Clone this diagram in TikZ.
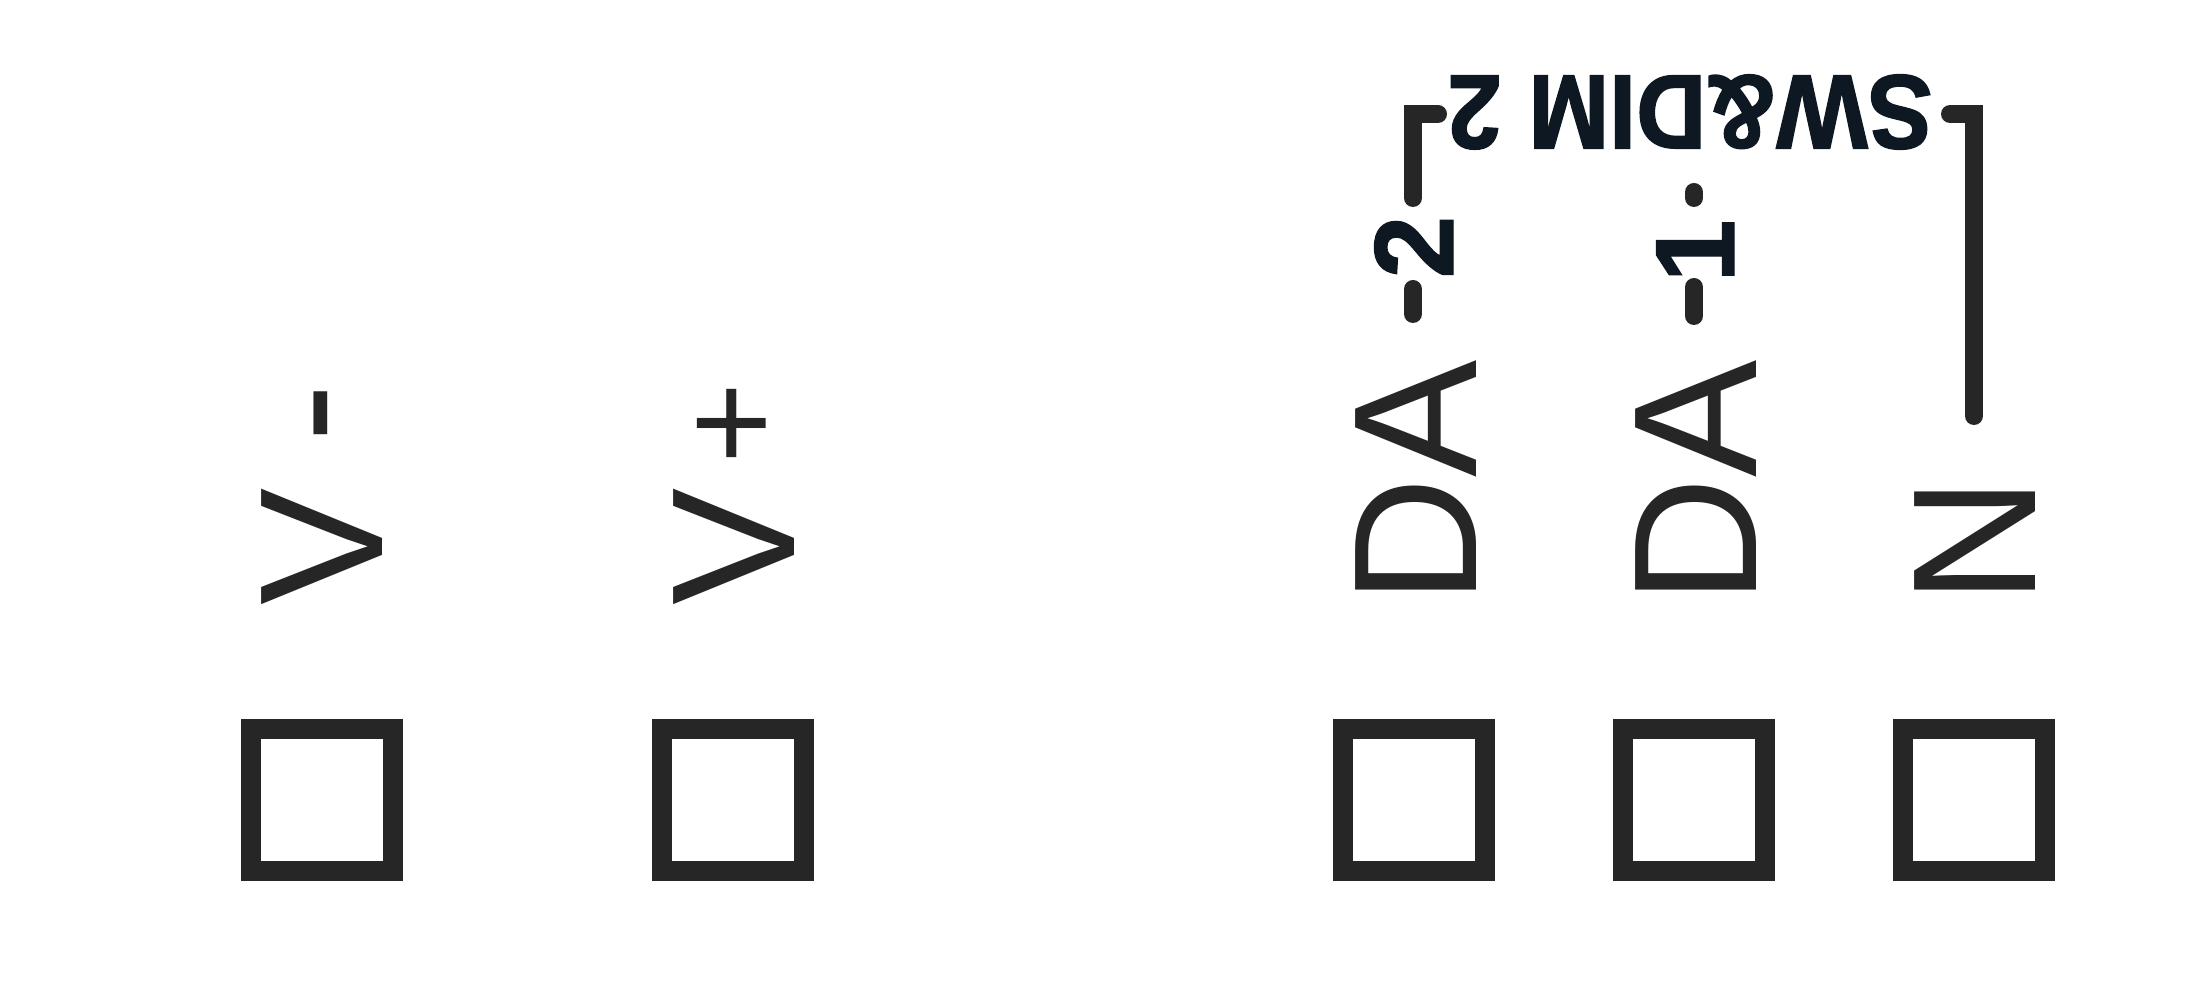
\documentclass[tikz,border=0pt]{standalone}
\usepackage{fontspec}
\setmainfont{Liberation Sans}
\newfontfamily\narrowbold[FakeStretch=0.92, FakeBold=1.5]{Liberation Sans Bold}
\newfontfamily\numbold[FakeBold=1.2]{Liberation Sans Bold}
\definecolor{silk}{HTML}{262626}
\definecolor{ink}{HTML}{0E1822}
\begin{document}
\begin{tikzpicture}[
  pad/.style={draw=silk, line width=2mm, minimum size=14.2mm, inner sep=0pt},
  pinlabel/.style={rotate=90, anchor=base west, inner sep=0pt, text=silk, font=\fontsize{50}{60}\selectfont},
  signlabel/.style={rotate=90, anchor=base, inner sep=0pt, text=silk, font=\fontsize{#1}{60}\selectfont},
  numlabel/.style={rotate=90, anchor=base, inner sep=0pt, text=ink, font=\numbold\fontsize{32}{40}\selectfont},
  bar/.style={draw=silk, line width=1.8mm, line cap=round}]
\useasboundingbox (0,0) rectangle (22.05,-10);

% pads
\node[pad] (padVm) at (3.22,-8.00) {};
\node[pad] (padVp) at (7.33,-8.00) {};
\node[pad] (padDA2) at (14.14,-8.00) {};
\node[pad] (padDA1) at (16.94,-8.00) {};
\node[pad] (padN) at (19.74,-8.00) {};

% pin names
\node[pinlabel] (labVm) at (3.82,-6.06) {V};
\node[pinlabel] (labVp) at (7.94,-6.06) {V};
\node[pinlabel] (labDA2) at (14.76,-6.05) {DA};
\node[pinlabel] (labDA1) at (17.56,-6.05) {DA};
\node[pinlabel] (labN) at (20.35,-6.05) {N};
\node[signlabel=50] (sgnVm) at (3.67,-4.13) {-};
\node[signlabel=40] (sgnVp) at (7.78,-4.23) {+};

% channel numbers
\draw[bar] (14.13,-2.89)--(14.13,-3.14);
\node[numlabel] (numTwo) at (14.53,-2.47) {2};
\draw[bar] (16.94,-2.87)--(16.94,-3.16);
\node[numlabel] (numOne) at (17.34,-2.51) {1};
\draw[bar] (16.94,-1.92)--(16.94,-1.98);

% bracket
\draw[bar] (14.13,-1.98)--(14.13,-1.14)--(14.38,-1.14);
\node[rotate=180, inner sep=0pt, text=ink, font=\narrowbold\fontsize{30}{36}\selectfont] (swdim) at (16.90,-1.12) {SW\&DIM 2};
\draw[bar] (19.50,-1.14)--(19.74,-1.14)--(19.74,-4.16);
\end{tikzpicture}
\end{document}
